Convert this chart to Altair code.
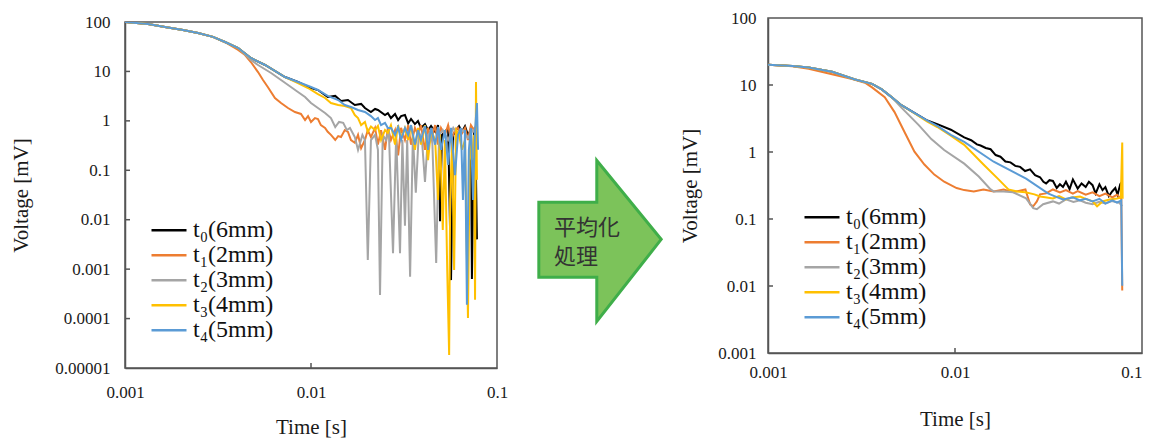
import altair as alt
import pandas as pd

SERIES = ["t₀(6mm)", "t₁(2mm)", "t₂(3mm)", "t₃(4mm)", "t₄(5mm)"]
COLORS = ["#000000", "#ED7D31", "#A5A5A5", "#FFC000", "#5B9BD5"]

X_TICKS = [0.001, 0.01, 0.1]
Y_TICKS_RAW = [0.00001, 0.0001, 0.001, 0.01, 0.1, 1, 10, 100]
Y_TICKS_AVG = [0.001, 0.01, 0.1, 1, 10, 100]
ARROW_TEXT = ["平均化", "処理"]

# ---------------- raw signals (left panel) ----------------
raw_t0_time = [0.001, 0.00133, 0.00164, 0.00205, 0.00247, 0.00297, 0.00345, 0.00406, 0.00475, 0.00566, 0.00725, 0.00851, 0.0100, 0.0109, 0.0123, 0.0135, 0.0145, 0.0158, 0.0172, 0.0186, 0.0195, 0.0210, 0.0221, 0.0229, 0.0250, 0.0259, 0.0269, 0.0283, 0.0294, 0.0305, 0.0320, 0.0333, 0.0345, 0.0362, 0.0376, 0.0390, 0.0410, 0.0426, 0.0442, 0.0465, 0.0482, 0.0488, 0.0494, 0.0506, 0.0525, 0.0546, 0.0566, 0.0582, 0.0603, 0.0625, 0.0648, 0.0673, 0.0698, 0.0724, 0.0733, 0.0752, 0.0765, 0.0780]
raw_t0_volt = [100, 91, 79, 69, 60, 50, 39.4, 29.8, 18.7, 13.5, 7.7, 6.1, 4.6, 4.2, 3.04, 3.2, 2.52, 2.64, 2.09, 2.2, 1.82, 1.51, 1.74, 1.66, 1.31, 1.43, 1.14, 1.38, 1.04, 1.25, 1.31, 0.89, 1.09, 0.86, 0.99, 0.72, 0.86, 0.65, 0.79, 0.6, 0.82, 0.41, 0.0093, 0.52, 0.6, 0.72, 0.0006, 0.52, 0.65, 0.78, 0.6, 0.78, 0.52, 0.65, 0.00063, 0.72, 0.6, 0.004]

raw_t1_time = [0.001, 0.00133, 0.00164, 0.00205, 0.00247, 0.00297, 0.00345, 0.00406, 0.00442, 0.00475, 0.00519, 0.00552, 0.00587, 0.0064, 0.0069, 0.00752, 0.0082, 0.00883, 0.00929, 0.00964, 0.0100, 0.0105, 0.0109, 0.0113, 0.0119, 0.0123, 0.0128, 0.0135, 0.0140, 0.0145, 0.0152, 0.0158, 0.0164, 0.0172, 0.0179, 0.0186, 0.0195, 0.0202, 0.0210, 0.0221, 0.0229, 0.0238, 0.0250, 0.0259, 0.0269, 0.0283, 0.0294, 0.0305, 0.0320, 0.0333, 0.0345, 0.0362, 0.0376, 0.0390, 0.0410, 0.0426, 0.0442, 0.0465, 0.0482, 0.0500, 0.0525, 0.0546, 0.0566, 0.0595, 0.0617, 0.0640, 0.0673, 0.0698, 0.0724, 0.0752, 0.0771]
raw_t1_volt = [100, 91, 79, 69, 60, 50, 39, 27.2, 21.5, 15.5, 9.7, 6.7, 4.8, 2.9, 2.3, 1.82, 1.51, 1.38, 1.04, 1.25, 0.95, 1.14, 1.09, 0.82, 0.72, 0.6, 0.52, 0.41, 0.49, 0.47, 0.65, 0.6, 0.41, 0.36, 0.52, 0.28, 0.41, 0.65, 0.47, 0.72, 0.33, 0.65, 0.26, 0.72, 0.41, 0.65, 0.2, 0.72, 0.41, 0.82, 0.33, 0.72, 0.52, 0.82, 0.26, 0.72, 0.41, 0.82, 0.33, 0.72, 0.52, 0.82, 0.41, 0.65, 0.72, 0.52, 0.72, 0.41, 0.82, 0.65, 0.8]

raw_t2_time = [0.001, 0.00133, 0.00164, 0.00205, 0.00247, 0.00297, 0.00345, 0.00406, 0.00475, 0.00519, 0.0061, 0.0069, 0.0078, 0.00851, 0.00929, 0.0100, 0.0109, 0.0119, 0.0128, 0.0135, 0.01415, 0.0149, 0.0156, 0.0162, 0.0172, 0.0179, 0.0189, 0.0195, 0.0202, 0.0210, 0.0221, 0.0229, 0.0235, 0.0243, 0.0253, 0.0262, 0.0276, 0.0287, 0.0301, 0.0310, 0.0320, 0.0329, 0.0341, 0.0353, 0.0366, 0.0380, 0.0395, 0.0410, 0.0426, 0.0447, 0.0471, 0.0488, 0.0511, 0.0546, 0.0582, 0.0617, 0.0656, 0.0698, 0.0743, 0.0771]
raw_t2_volt = [100, 91, 79, 69, 60, 50, 39.4, 29.8, 17, 13.5, 9.3, 6.7, 4.84, 3.84, 3.04, 2.3, 1.82, 1.44, 1.14, 0.75, 0.95, 0.91, 0.65, 0.72, 0.47, 0.257, 0.52, 0.41, 0.00153, 0.41, 0.52, 0.26, 0.0003, 0.52, 0.41, 0.65, 0.0021, 0.52, 0.0021, 0.41, 0.0076, 0.41, 0.0007, 0.52, 0.035, 0.6, 0.41, 0.058, 0.52, 0.65, 0.00133, 0.52, 0.65, 0.41, 0.72, 0.52, 0.65, 0.45, 0.65, 0.52]

raw_t3_time = [0.001, 0.00133, 0.00164, 0.00205, 0.00247, 0.00297, 0.00345, 0.00406, 0.00475, 0.00566, 0.00725, 0.00851, 0.00964, 0.0109, 0.0119, 0.0128, 0.0140, 0.0152, 0.0164, 0.0172, 0.0179, 0.0186, 0.0195, 0.0202, 0.0210, 0.0221, 0.0229, 0.0238, 0.0250, 0.0259, 0.0269, 0.0283, 0.0294, 0.0305, 0.0320, 0.0333, 0.0345, 0.0362, 0.0376, 0.0390, 0.0410, 0.0426, 0.0442, 0.0465, 0.0482, 0.0494, 0.0511, 0.0525, 0.0540, 0.0553, 0.0560, 0.0574, 0.0588, 0.0603, 0.0625, 0.0648, 0.0673, 0.0698, 0.0715, 0.0733, 0.0752, 0.0762, 0.0771, 0.0780]
raw_t3_volt = [100, 91, 79, 69, 60, 50, 39.4, 29.8, 18.7, 13.5, 7.7, 5.83, 4.62, 3.49, 2.9, 2.3, 2.09, 2.0, 1.82, 1.31, 1.14, 0.82, 0.95, 0.6, 0.77, 0.65, 0.79, 0.41, 0.65, 0.57, 0.82, 0.33, 0.82, 0.45, 0.72, 0.41, 0.82, 0.26, 0.72, 0.33, 0.82, 0.16, 0.65, 0.41, 0.025, 0.52, 0.0062, 0.41, 0.00096, 0.0000183, 0.025, 0.41, 0.00096, 0.65, 0.52, 0.26, 0.41, 0.000103, 0.41, 0.16, 0.52, 0.00024, 6.1, 0.064]

raw_t4_time = [0.001, 0.00133, 0.00164, 0.00205, 0.00247, 0.00297, 0.00345, 0.00406, 0.00475, 0.00566, 0.00725, 0.00851, 0.0100, 0.0109, 0.0123, 0.0140, 0.0152, 0.0164, 0.0179, 0.0195, 0.0210, 0.0221, 0.0229, 0.0238, 0.0250, 0.0259, 0.0269, 0.0283, 0.0294, 0.0305, 0.0320, 0.0333, 0.0345, 0.0362, 0.0376, 0.0390, 0.0410, 0.0426, 0.0442, 0.0465, 0.0482, 0.0500, 0.0525, 0.0546, 0.0566, 0.0595, 0.0617, 0.0640, 0.0656, 0.0673, 0.0689, 0.0706, 0.0724, 0.0743, 0.0762, 0.0780, 0.0791]
raw_t4_volt = [100, 91, 79, 69, 60, 50, 39.4, 29.8, 18.7, 13.5, 7.7, 6.1, 4.84, 4.21, 3.2, 2.64, 2.09, 1.91, 1.66, 1.51, 1.25, 1.04, 1.14, 0.82, 0.91, 0.72, 0.72, 0.52, 0.75, 0.41, 0.72, 0.52, 0.82, 0.33, 0.65, 0.41, 0.79, 0.26, 0.72, 0.33, 0.75, 0.26, 0.65, 0.128, 0.72, 0.08, 0.52, 0.72, 0.025, 0.65, 0.00019, 0.26, 0.72, 0.025, 0.65, 2.3, 0.26]

# ---------------- averaged signals (right panel) ----------------
avg_t0_time = [0.001, 0.00135, 0.00165, 0.0022, 0.00292, 0.0036, 0.00406, 0.00458, 0.00517, 0.0060, 0.00711, 0.00804, 0.0095, 0.0112, 0.0122, 0.0131, 0.0137, 0.0146, 0.0155, 0.0165, 0.0175, 0.0186, 0.0198, 0.0210, 0.0223, 0.0237, 0.0252, 0.0268, 0.0285, 0.0297, 0.0307, 0.0320, 0.0334, 0.0350, 0.0364, 0.0378, 0.0392, 0.0410, 0.0427, 0.0453, 0.0475, 0.0500, 0.0520, 0.0544, 0.0565, 0.0592, 0.0615, 0.0637, 0.0665, 0.0694, 0.0720, 0.0740, 0.0765, 0.0784]
avg_t0_volt = [20, 19.2, 18.2, 15.8, 12.1, 10.4, 8.6, 6.6, 5.0, 3.9, 2.95, 2.6, 2.15, 1.65, 1.5, 1.3, 1.25, 1.15, 1.1, 0.9, 0.85, 0.72, 0.7, 0.62, 0.6, 0.52, 0.55, 0.45, 0.42, 0.36, 0.34, 0.38, 0.37, 0.29, 0.33, 0.3, 0.36, 0.28, 0.39, 0.285, 0.34, 0.3, 0.36, 0.32, 0.24, 0.33, 0.27, 0.3, 0.22, 0.26, 0.29, 0.23, 0.33, 0.36]

avg_t1_time = [0.001, 0.00135, 0.00165, 0.0022, 0.00282, 0.0033, 0.0036, 0.00421, 0.00475, 0.00537, 0.00607, 0.00686, 0.00775, 0.00875, 0.0102, 0.0112, 0.0126, 0.0142, 0.0161, 0.0182, 0.0205, 0.0222, 0.0238, 0.0252, 0.0262, 0.0274, 0.0285, 0.0307, 0.0334, 0.0364, 0.0392, 0.0427, 0.0453, 0.0500, 0.0544, 0.0592, 0.0637, 0.0694, 0.0735, 0.0775, 0.0784]
avg_t1_volt = [20, 19, 17.5, 14.5, 12.3, 10.8, 9.2, 6.56, 3.94, 1.99, 1.01, 0.65, 0.46, 0.36, 0.29, 0.27, 0.258, 0.276, 0.258, 0.276, 0.252, 0.265, 0.276, 0.166, 0.155, 0.183, 0.233, 0.241, 0.276, 0.25, 0.27, 0.24, 0.26, 0.23, 0.25, 0.22, 0.24, 0.21, 0.23, 0.2, 0.0086]

avg_t2_time = [0.001, 0.00135, 0.00165, 0.0022, 0.00292, 0.0036, 0.00406, 0.00458, 0.00517, 0.0064, 0.00747, 0.00875, 0.0112, 0.0134, 0.0155, 0.0161, 0.0182, 0.0205, 0.0240, 0.0262, 0.0274, 0.0296, 0.0334, 0.0360, 0.0392, 0.0430, 0.0466, 0.0500, 0.0544, 0.0590, 0.0637, 0.0690, 0.0755, 0.0784]
avg_t2_volt = [20, 19.2, 18.2, 15.8, 12.1, 10.4, 8.6, 6.6, 4.6, 2.52, 1.56, 1.07, 0.67, 0.43, 0.276, 0.258, 0.258, 0.25, 0.203, 0.145, 0.14, 0.166, 0.183, 0.17, 0.196, 0.18, 0.19, 0.175, 0.166, 0.18, 0.17, 0.185, 0.175, 0.155]

avg_t3_time = [0.001, 0.00135, 0.00165, 0.0022, 0.00292, 0.0036, 0.00406, 0.00458, 0.00517, 0.0060, 0.00711, 0.00804, 0.0095, 0.0112, 0.0142, 0.0171, 0.0193, 0.0215, 0.0238, 0.0266, 0.0285, 0.0310, 0.0334, 0.0360, 0.0392, 0.0420, 0.0466, 0.0500, 0.0544, 0.0575, 0.0615, 0.0670, 0.0735, 0.0770, 0.0784, 0.0788]
avg_t3_volt = [20, 19.2, 18.2, 15.8, 12.1, 10.4, 8.6, 6.6, 5.0, 3.85, 2.85, 2.36, 1.75, 1.28, 0.65, 0.39, 0.276, 0.258, 0.25, 0.233, 0.217, 0.21, 0.203, 0.22, 0.196, 0.21, 0.217, 0.2, 0.183, 0.155, 0.183, 0.196, 0.203, 0.21, 1.38, 0.2]

avg_t4_time = [0.001, 0.00135, 0.00165, 0.0022, 0.00292, 0.0036, 0.00406, 0.00458, 0.00517, 0.0060, 0.00711, 0.00804, 0.0095, 0.0112, 0.0161, 0.0240, 0.0314, 0.0340, 0.0378, 0.0427, 0.0466, 0.0500, 0.0544, 0.0592, 0.0637, 0.0694, 0.0735, 0.0775, 0.0784]
avg_t4_volt = [20, 19.2, 18.2, 15.8, 12.1, 10.4, 8.6, 6.6, 5.0, 3.9, 2.95, 2.45, 1.8, 1.42, 0.716, 0.4, 0.241, 0.22, 0.196, 0.21, 0.19, 0.2, 0.183, 0.2, 0.17, 0.19, 0.175, 0.19, 0.0101]

RAW_TIMES = [raw_t0_time, raw_t1_time, raw_t2_time, raw_t3_time, raw_t4_time]
RAW_VOLTS = [raw_t0_volt, raw_t1_volt, raw_t2_volt, raw_t3_volt, raw_t4_volt]
AVG_TIMES = [avg_t0_time, avg_t1_time, avg_t2_time, avg_t3_time, avg_t4_time]
AVG_VOLTS = [avg_t0_volt, avg_t1_volt, avg_t2_volt, avg_t3_volt, avg_t4_volt]


def build(times, volts):
    rows = []
    for name, ts, vs in zip(SERIES, times, volts):
        assert len(ts) == len(vs), name
        for i, (t, v) in enumerate(zip(ts, vs)):
            rows.append({"series": name, "order": i, "time": t, "voltage": v})
    return pd.DataFrame(rows)


SERIF = "Liberation Serif"
FRAME = "#555555"
TXT = "#1a1a1a"


def panel(df, y_ticks, y_domain, w, h, legend_xy, lab_pad_x, title_pad_x, lab_pad_y,
          title_pad_y, x_align):
    xs = alt.Scale(type="log", domain=[0.001, 0.1])
    ys = alt.Scale(type="log", domain=y_domain)
    lines = alt.Chart(df).mark_line(strokeWidth=2, clip=True).encode(
        x=alt.X("time:Q", scale=xs, axis=alt.Axis(
            title="Time [s]", values=X_TICKS, format=".5~f", ticks=False,
            labelFlush=False, labelAlign=x_align, labelFont=SERIF, titleFont=SERIF,
            labelPadding=lab_pad_x, titlePadding=title_pad_x)),
        y=alt.Y("voltage:Q", scale=ys, axis=alt.Axis(
            title="Voltage [mV]", values=y_ticks, format=".5~f", ticks=False,
            labelFlush=False, labelFont=SERIF, titleFont=SERIF,
            labelPadding=lab_pad_y, titlePadding=title_pad_y)),
        color=alt.Color("series:N", scale=alt.Scale(domain=SERIES, range=COLORS),
                        legend=alt.Legend(
                            orient="none", legendX=legend_xy[0], legendY=legend_xy[1],
                            title=None, symbolType="stroke", symbolSize=1225,
                            symbolStrokeWidth=2.5, labelFont=SERIF, labelFontSize=24,
                            labelColor="#111111", clipHeight=24.6, rowPadding=0,
                            padding=0, labelOffset=5)),
        order="order:Q",
    )
    xt = alt.Chart(pd.DataFrame({"time": X_TICKS[1:2]})).mark_rule(
        color=FRAME, strokeWidth=1.5).encode(
        x=alt.X("time:Q", scale=xs), y=alt.value(h), y2=alt.value(h - 5))
    yt = alt.Chart(pd.DataFrame({"voltage": y_ticks[1:-1]})).mark_rule(
        color=FRAME, strokeWidth=1.5).encode(
        y=alt.Y("voltage:Q", scale=ys), x=alt.value(0), x2=alt.value(5))
    return alt.layer(lines, xt, yt).properties(
        width=w, height=h,
        view=alt.ViewBackground(stroke=FRAME, strokeWidth=1.5),
    )


left_panel = panel(build(RAW_TIMES, RAW_VOLTS), Y_TICKS_RAW, [0.00001, 100], 372, 346,
                   (25, 200), 16, 16, 15, 23, "center")
right = panel(build(AVG_TIMES, AVG_VOLTS), Y_TICKS_AVG, [0.001, 100], 374, 335,
              (35, 187), 11, 28, 12, 17,
              alt.ExprRef(expr="datum.value > 0.05 ? 'right' : 'center'"))

base = alt.Chart(pd.DataFrame({"k": [0]}))
spacer = base.mark_point(opacity=0).encode(x=alt.value(0), y=alt.value(0)).properties(
    width=372, height=4, view=alt.ViewBackground(strokeWidth=0))
left = alt.vconcat(spacer, left_panel, spacing=0, bounds="flush")

ARROW = "M-0.76,-0.48 L-0.04,-0.48 L-0.04,-1 L0.76,-0.02 L-0.04,1 L-0.04,0.45 L-0.76,0.45 Z"
arrow = base.mark_point(shape=ARROW, size=25921, filled=True, fill="#7cc35a",
                        stroke="#3fae49", strokeWidth=3, opacity=1, fillOpacity=1).encode(
    x=alt.value(91), y=alt.value(223))
label = base.mark_text(text=ARROW_TEXT, font="Noto Sans CJK JP", fontSize=22,
                       align="left", baseline="middle", lineHeight=29,
                       color="#333333").encode(x=alt.value(45), y=alt.value(210))
mid = alt.layer(arrow, label).properties(
    width=170, height=346, view=alt.ViewBackground(strokeWidth=0))

chart = alt.hconcat(left, mid, right, spacing=0).resolve_legend(
    color="independent"
).properties(
    padding={"left": 2, "top": 0, "right": 0, "bottom": 0}
).configure_axis(
    labelFont=SERIF, titleFont=SERIF, labelFontSize=17, titleFontSize=21,
    titleFontWeight="normal", labelColor=TXT, titleColor=TXT,
    domainColor=FRAME, domainWidth=1.5, grid=False,
).configure_legend(labelLimit=300)

chart.save("out.html", embed_options={"renderer": "svg", "actions": False})
